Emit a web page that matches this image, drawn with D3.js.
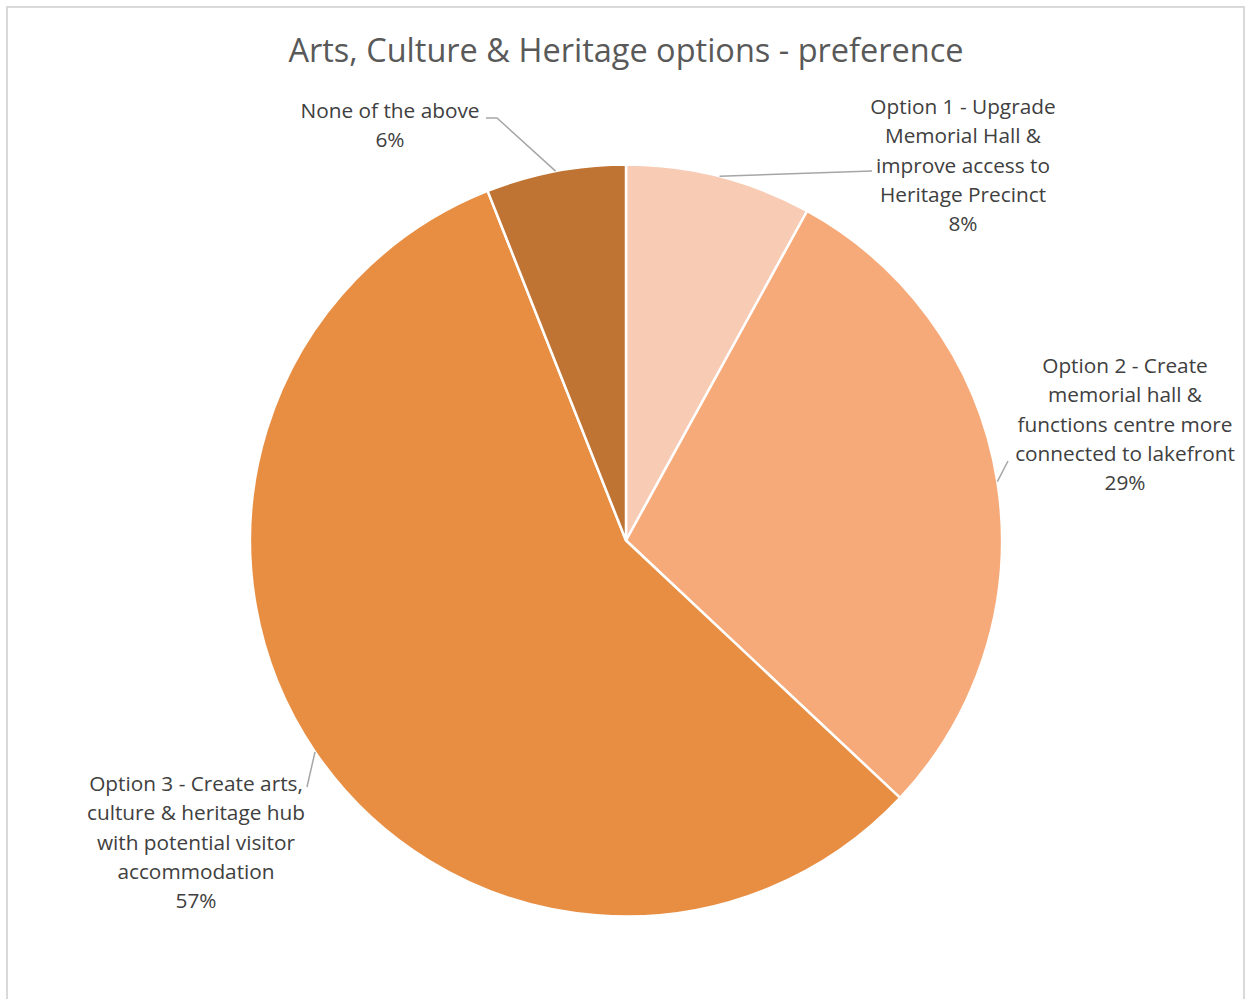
<!DOCTYPE html>
<html>
<head>
<meta charset="utf-8">
<script src="https://cdn.jsdelivr.net/npm/d3@7"></script>
<style>
  html, body { margin: 0; padding: 0; background: #fff; }
  svg { display: block; }
</style>
</head>
<body>
<svg id="chart" width="1245" height="999"></svg>
<script>
// Survey results: preferred Arts, Culture & Heritage option
const categories = [
  "Option 1 - Upgrade Memorial Hall & improve access to Heritage Precinct",
  "Option 2 - Create memorial hall & functions centre more connected to lakefront",
  "Option 3 - Create arts, culture & heritage hub with potential visitor accommodation",
  "None of the above"
];
const labelLines = [
  ["Option 1 - Upgrade", "Memorial Hall &", "improve access to", "Heritage Precinct"],
  ["Option 2 - Create", "memorial hall &", "functions centre more", "connected to lakefront"],
  ["Option 3 - Create arts,", "culture & heritage hub", "with potential visitor", "accommodation"],
  ["None of the above"]
];
const percentages = [8, 29, 57, 6];
const sliceColors = ["#F8CBB4", "#F7AA79", "#E88E43", "#C07433"];

const title = "Arts, Culture & Heritage options - preference";

// Layout
const width = 1245, height = 999;
const cx = 626, cy = 540.5, radius = 376;
const fontFamily = "'Open Sans', 'Noto Sans', sans-serif";
const labelSize = 20.8;
const lineHeight = 29.2;
// label block centre (x, y of first line centre) and leader-line elbow per slice
const labelLayout = [
  { x: 963,  y: 107, leader: [[872, 171]] },
  { x: 1125, y: 366, leader: [[1008, 461]] },
  { x: 196,  y: 784, leader: [[307, 787]] },
  { x: 390,  y: 111, leader: [[497, 118], [486, 118]] }
];

const svg = d3.select("#chart");

// chart frame
svg.append("rect")
  .attr("x", 7).attr("y", 7)
  .attr("width", 1237).attr("height", 1010)
  .attr("fill", "#fff")
  .attr("stroke", "#D9D9D9")
  .attr("stroke-width", 2);

svg.append("text")
  .attr("x", 626).attr("y", 62)
  .attr("text-anchor", "middle")
  .attr("font-family", fontFamily)
  .attr("font-size", 32.5)
  .attr("fill", "#595959")
  .text(title);

const data = categories.map((c, i) => ({ name: c, value: percentages[i], color: sliceColors[i], lines: labelLines[i], layout: labelLayout[i] }));

const pie = d3.pie().sort(null).value(d => d.value);
const arcs = pie(data);
const arc = d3.arc().innerRadius(0).outerRadius(radius);

const g = svg.append("g").attr("transform", `translate(${cx},${cy})`);

g.selectAll("path.slice")
  .data(arcs)
  .join("path")
  .attr("class", "slice")
  .attr("d", arc)
  .attr("fill", d => d.data.color)
  .attr("stroke", "#fff")
  .attr("stroke-width", 2.5)
  .attr("stroke-linejoin", "round");

// leader lines from the arc edge at each slice's mid angle
g.selectAll("path.leader")
  .data(arcs)
  .join("path")
  .attr("class", "leader")
  .attr("fill", "none")
  .attr("stroke", "#A6A6A6")
  .attr("stroke-width", 1.5)
  .attr("d", d => {
    const mid = (d.startAngle + d.endAngle) / 2;
    const p0 = [Math.sin(mid) * radius, -Math.cos(mid) * radius];
    const pts = [p0].concat(d.data.layout.leader.map(p => [p[0] - cx, p[1] - cy]));
    return d3.line()(pts);
  });

// data labels: category name over percentage
const labels = svg.selectAll("text.label")
  .data(arcs)
  .join("text")
  .attr("class", "label")
  .attr("text-anchor", "middle")
  .attr("font-family", fontFamily)
  .attr("font-size", labelSize)
  .attr("fill", "#404040");

labels.each(function (d) {
  const t = d3.select(this);
  const rows = d.data.lines.concat([d3.format(".0%")(d.value / 100)]);
  rows.forEach((row, i) => {
    t.append("tspan")
      .attr("x", d.data.layout.x)
      .attr("y", d.data.layout.y + i * lineHeight)
      .attr("dy", "0.35em")
      .text(row);
  });
});
</script>
</body>
</html>
